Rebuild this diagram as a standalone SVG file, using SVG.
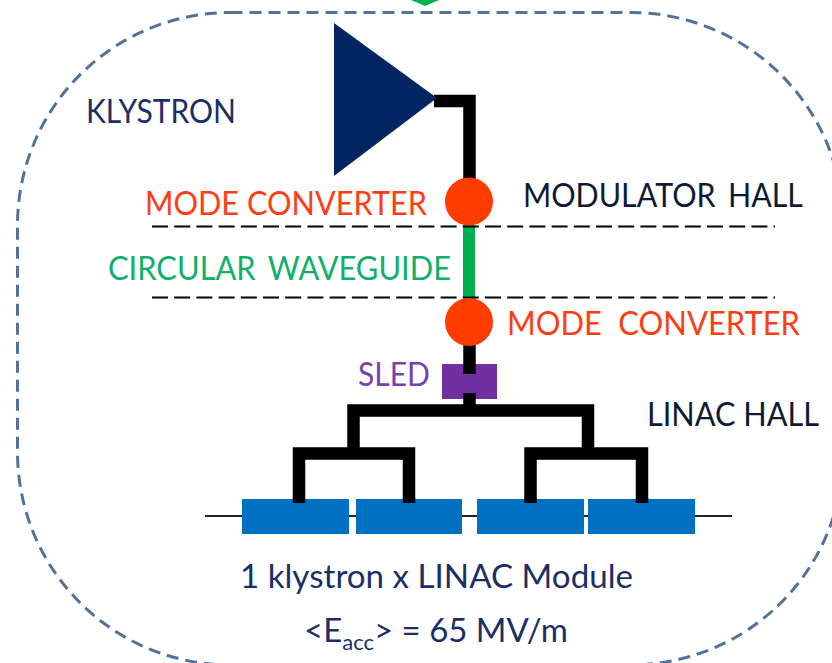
<svg xmlns="http://www.w3.org/2000/svg" width="832" height="663" viewBox="0 0 832 663">
<style>
text{font-family:Lato,"Noto Sans","Liberation Sans",sans-serif;font-size:33px}
.red{fill:#ff3d12}.navy{fill:#1b2f66}.ink{fill:#0e1a33}.green{fill:#10b06a}
.wire{fill:none;stroke:#000;stroke-width:12.500}
.cut{fill:none;stroke:#000;stroke-width:2;stroke-dasharray:16 6.200}
.cav{fill:#0070c0}
.mc{fill:#ff3c00}
</style>
<rect width="832" height="663" fill="#fff"/>
<g id="boundary"><rect x="17.500" y="12.500" width="826" height="652.500" rx="213" ry="213" fill="none" stroke="#527299" stroke-width="3" stroke-dasharray="12 7"/></g>
<g id="top-marker"><path d="M411 0H439L425 6Z" fill="#00b050"/></g>
<g id="connectors">
<path class="wire" d="M434 101H469.500V185"/>
<path d="M469 225V300" fill="none" stroke="#00b050" stroke-width="12"/>
<path class="wire" d="M469.500 340V370"/>
<path class="cut" d="M152 226.500H775M152 297.500H775"/>
<path d="M205 516H732" fill="none" stroke="#222" stroke-width="2"/>
</g>
<g id="klystron"><path d="M334 23L437 98L334 176Z" fill="#032663"/><text class="navy" x="86" y="123" textLength="150" lengthAdjust="spacingAndGlyphs">KLYSTRON</text></g>
<g id="mode-converter-1"><ellipse class="mc" cx="469" cy="201.500" rx="24" ry="24"/><text class="red" x="145" y="215" textLength="282" lengthAdjust="spacingAndGlyphs">MODE CONVERTER</text></g>
<g id="modulator-hall"><text class="ink" x="523" y="207" word-spacing="5" textLength="280" lengthAdjust="spacingAndGlyphs">MODULATOR HALL</text></g>
<g id="circular-waveguide"><text class="green" x="108" y="280" word-spacing="5" textLength="343" lengthAdjust="spacingAndGlyphs">CIRCULAR WAVEGUIDE</text></g>
<g id="mode-converter-2"><ellipse class="mc" cx="469" cy="322" rx="24" ry="24"/><text class="red" x="507" y="335" word-spacing="9" textLength="293" lengthAdjust="spacingAndGlyphs">MODE CONVERTER</text></g>
<g id="sled"><rect x="442" y="364" width="55" height="35" fill="#7030a0"/><path d="M469.500 364V374" class="wire"/><text x="358" y="386" fill="#7a3fb0" textLength="72" lengthAdjust="spacingAndGlyphs">SLED</text></g>
<g id="linac-hall"><text class="ink" x="647" y="426" textLength="172" lengthAdjust="spacingAndGlyphs">LINAC HALL</text></g>
<g id="distribution">
<path class="wire" d="M469.500 393V410M353.500 453V410.500H588V453"/>
<path class="wire" d="M299 502V453.500H409V502M530.500 502V453.500H642V502"/>
</g>
<g id="cavity-1"><rect class="cav" x="242" y="499" width="107" height="35"/></g>
<g id="cavity-2"><rect class="cav" x="356" y="499" width="106" height="35"/></g>
<g id="cavity-3"><rect class="cav" x="477" y="499" width="107" height="35"/></g>
<g id="cavity-4"><rect class="cav" x="588" y="499" width="107" height="35"/></g>
<path d="M299 498V503M409 498V503M530.500 498V503M642 498V503" class="wire"/>
<g id="caption">
<text class="navy" x="240" y="588" textLength="393" lengthAdjust="spacingAndGlyphs">1 klystron x LINAC Module</text>
<text class="navy" x="304" y="642">&lt;E<tspan style="font-size:22px" dy="8">acc</tspan><tspan dy="-8">&gt; = 65 MV/m</tspan></text>
</g>
</svg>
